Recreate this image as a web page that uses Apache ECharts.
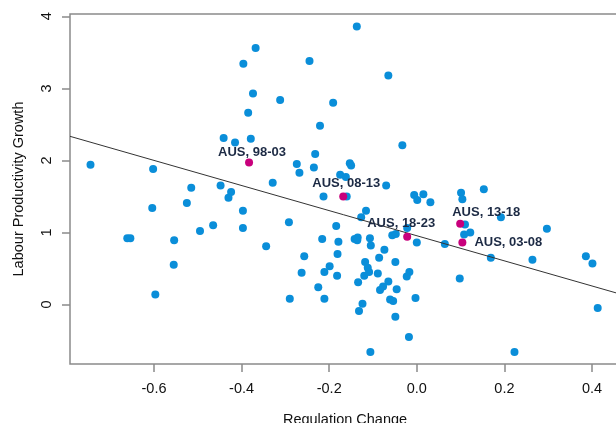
<!DOCTYPE html>
<html>
<head>
<meta charset="utf-8">
<script src="https://cdn.jsdelivr.net/npm/echarts@6/dist/echarts.min.js"></script>
<style>
    html, body { margin: 0; padding: 0; background: #fff; }
    #chart { width: 616px; height: 423px; }
</style>
</head>
<body>
<div id="chart"></div>
<script type="text/javascript">
    // other countries / periods
    var regX = [-0.745,-0.602,-0.515,-0.604,-0.525,-0.465,-0.495,-0.661,-0.654,-0.554,-0.555,-0.597,-0.448,-0.424,-0.430,-0.397,-0.397,-0.344,-0.329,-0.292,
        -0.137,-0.368,-0.396,-0.245,-0.065,-0.374,-0.312,-0.191,-0.385,-0.221,-0.441,-0.415,-0.379,-0.033,-0.232,-0.274,-0.235,-0.268,-0.153,-0.150,
        -0.175,-0.162,-0.070,-0.213,-0.160,-0.006,0.001,0.015,0.031,0.101,0.104,0.153,
        -0.184,-0.179,-0.216,-0.181,-0.127,-0.116,-0.142,-0.135,-0.136,-0.107,-0.105,-0.074,-0.056,-0.048,-0.022,0.000,0.064,0.110,0.192,0.108,
        0.122,0.297,0.169,0.264,0.386,0.401,0.413,0.223,
        -0.257,-0.263,-0.211,-0.199,-0.182,-0.225,-0.290,-0.211,-0.118,-0.112,-0.109,-0.120,-0.086,-0.089,-0.049,-0.017,-0.023,-0.134,-0.065,-0.077,
        -0.084,-0.046,-0.124,-0.132,-0.061,-0.054,-0.003,-0.049,-0.018,-0.106,0.098];
    var regY = [1.94,1.88,1.62,1.34,1.41,1.10,1.02,0.92,0.92,0.89,0.55,0.14,1.65,1.56,1.48,1.30,1.06,0.81,1.69,1.14,
        3.86,3.56,3.34,3.38,3.18,2.93,2.84,2.80,2.66,2.48,2.31,2.25,2.30,2.21,2.09,1.95,1.90,1.83,1.96,1.93,
        1.80,1.77,1.65,1.50,1.50,1.52,1.45,1.53,1.42,1.55,1.46,1.60,
        1.09,0.87,0.91,0.70,1.21,1.30,0.91,0.93,0.89,0.92,0.82,0.76,0.96,0.98,1.06,0.86,0.84,1.11,1.21,0.97,
        1.00,1.05,0.65,0.62,0.67,0.57,-0.05,-0.66,
        0.67,0.44,0.45,0.53,0.40,0.24,0.08,0.08,0.59,0.51,0.45,0.40,0.65,0.43,0.59,0.45,0.39,0.31,0.32,0.25,
        0.20,0.21,0.01,-0.09,0.07,0.05,0.09,-0.17,-0.45,-0.66,0.36];

    // Australia
    var ausNames = ['AUS, 98-03','AUS, 08-13','AUS, 18-23','AUS, 13-18','AUS, 03-08'];
    var ausX = [-0.383,-0.168,-0.022,0.099,0.104];
    var ausY = [1.97,1.50,0.94,1.12,0.86];

    // fitted line y = a + b*x
    var fitIntercept = 0.954;
    var fitSlope = -1.743;

    var xTicks = [-0.6,-0.4,-0.2,0.0,0.2,0.4];
    var yTicks = [0,1,2,3,4];

    var xMin = -0.7918, xMax = 0.4639;
    var yMin = -0.826, yMax = 4.032;

    var font = 'Liberation Sans, Arial, sans-serif';
    var axisGrey = '#8a8a8a';

    // label placement next to each AUS point (px offsets)
    var ausLabelOffset = {
        'AUS, 98-03': [3, -10],
        'AUS, 08-13': [3, -13],
        'AUS, 18-23': [-6, -13],
        'AUS, 13-18': [26, -11],
        'AUS, 03-08': [46, 0]
    };

    var otherData = [];
    for (var i = 0; i < regX.length; i++) {
        otherData.push([regX[i], regY[i]]);
    }
    var ausData = [];
    for (var i = 0; i < ausX.length; i++) {
        ausData.push({
            value: [ausX[i], ausY[i]],
            name: ausNames[i],
            label: { offset: ausLabelOffset[ausNames[i]] }
        });
    }

    var myChart = echarts.init(document.getElementById('chart'), null, { renderer: 'canvas' });
    var option = {
        animation: false,
        grid: {
            left: 70,
            right: -4,
            top: 14,
            bottom: 59,
            containLabel: false,
            outerBoundsMode: 'none',
            show: true,
            borderColor: axisGrey,
            borderWidth: 1.5,
            backgroundColor: 'transparent'
        },
        xAxis: {
            type: 'value',
            min: xMin,
            max: xMax,
            name: 'Regulation Change',
            nameLocation: 'middle',
            nameGap: 48,
            nameTextStyle: { fontFamily: font, fontSize: 14.5, color: '#111' },
            axisLine: { show: false, onZero: false },
            splitLine: { show: false },
            axisTick: {
                show: true,
                length: 8,
                customValues: xTicks,
                lineStyle: { color: axisGrey, width: 1.5 }
            },
            axisLabel: {
                customValues: xTicks,
                margin: 17,
                fontFamily: font,
                fontSize: 14.5,
                color: '#111',
                formatter: function (v) { return v.toFixed(1); }
            }
        },
        yAxis: {
            type: 'value',
            min: yMin,
            max: yMax,
            name: 'Labour Productivity Growth',
            nameLocation: 'middle',
            nameGap: 44,
            nameTextStyle: { fontFamily: font, fontSize: 14.5, color: '#111' },
            axisLine: { show: false, onZero: false },
            splitLine: { show: false },
            axisTick: {
                show: true,
                length: 8,
                customValues: yTicks,
                lineStyle: { color: axisGrey, width: 1.5 }
            },
            axisLabel: {
                customValues: yTicks,
                rotate: 90,
                margin: 16,
                fontFamily: font,
                fontSize: 14.5,
                color: '#111'
            }
        },
        series: [
            {
                name: 'others',
                type: 'scatter',
                symbolSize: 8,
                itemStyle: { color: '#0a8ed9', opacity: 1 },
                data: otherData,
                z: 2
            },
            {
                name: 'fit',
                type: 'line',
                showSymbol: false,
                symbol: 'none',
                lineStyle: { color: '#333', width: 1 },
                data: [[xMin, fitIntercept + fitSlope * xMin], [xMax, fitIntercept + fitSlope * xMax]],
                z: 3
            },
            {
                name: 'AUS',
                type: 'scatter',
                symbolSize: 8,
                itemStyle: { color: '#c8007c', opacity: 1 },
                data: ausData,
                label: {
                    show: true,
                    position: 'inside',
                    formatter: '{b}',
                    fontFamily: font,
                    fontSize: 13,
                    fontWeight: 'bold',
                    color: '#1c2a44'
                },
                z: 4
            }
        ]
    };
    myChart.setOption(option);
</script>
</body>
</html>
